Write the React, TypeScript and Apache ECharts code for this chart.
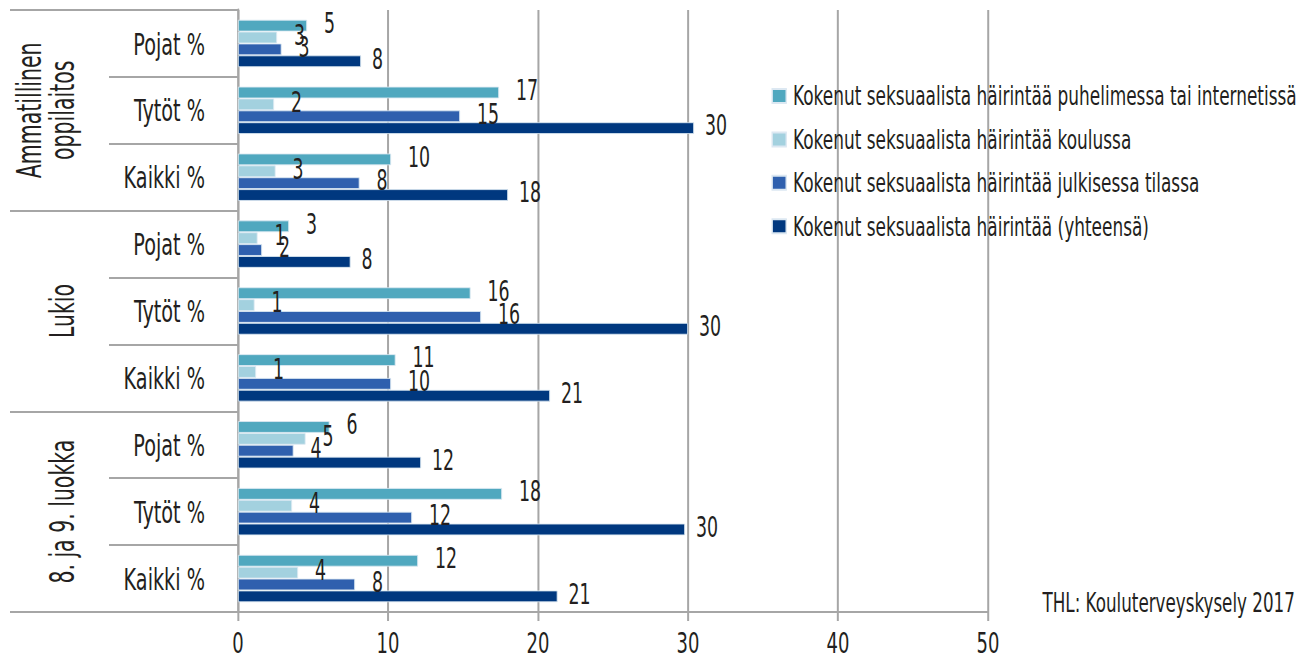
import React, { useEffect, useRef } from 'react';
import * as echarts from 'echarts';

const categories = ['Pojat %', 'Tytöt %', 'Kaikki %', 'Pojat %', 'Tytöt %', 'Kaikki %', 'Pojat %', 'Tytöt %', 'Kaikki %'];
const groups = ['Ammatillinen\noppilaitos', 'Lukio', '8. ja 9. luokka'];
const seriesNames = [
  'Kokenut seksuaalista häirintää puhelimessa tai internetissä',
  'Kokenut seksuaalista häirintää koulussa',
  'Kokenut seksuaalista häirintää julkisessa tilassa',
  'Kokenut seksuaalista häirintää (yhteensä)',
];
const puhelin = [4.6, 17.4, 10.2, 3.4, 15.5, 10.5, 6.1, 17.6, 12.0];
const koulu = [2.6, 2.4, 2.5, 1.3, 1.1, 1.2, 4.5, 3.6, 4.0];
const julkinen = [2.9, 14.8, 8.1, 1.6, 16.2, 10.2, 3.7, 11.6, 7.8];
const yhteensa = [8.2, 30.4, 18.0, 7.5, 30.0, 20.8, 12.2, 29.8, 21.3];
const colors = ['#50A8BF', '#A3D1DF', '#2F60AE', '#00387F'];
const xTicks = { min: 0, max: 50, interval: 10 };
const sourceText = 'THL: Kouluterveyskysely 2017';

// The reference uses a tall condensed typeface; the chart is laid out on a wider
// canvas and squeezed horizontally so the text gets the same condensed look.
const OUT_W = 1299;
const OUT_H = 659;
const S = 0.69;
const W = Math.round(OUT_W / S);
const SX = OUT_W / W;
const h = (px: number) => px / SX; // final horizontal px -> canvas px

const FONT = "'DejaVu Sans Condensed', 'DejaVu Sans', sans-serif";
const GRAY = '#A6A6A6';
const TEXT = '#231F20';

export default function App() {
  const ref = useRef<HTMLDivElement>(null);
  useEffect(() => {
    if (!ref.current) return;
    const chart = echarts.init(ref.current, undefined, { renderer: 'svg' });
    const values = [puhelin, koulu, julkinen, yhteensa];
    chart.setOption({
      animation: false,
      textStyle: { fontFamily: FONT },
      grid: { left: h(238), right: h(311), top: 10, bottom: 47, containLabel: false },
      legend: {
        orient: 'vertical',
        left: h(771.5),
        top: 82.5,
        padding: 0,
        itemWidth: h(14),
        itemHeight: 14,
        itemGap: 16.4,
        icon: 'rect',
        data: seriesNames,
        textStyle: { fontFamily: FONT, fontSize: 27.3, color: TEXT, padding: [0, 0, 0, 5] },
      },
      xAxis: {
        type: 'value',
        min: xTicks.min,
        max: xTicks.max,
        interval: xTicks.interval,
        axisLine: { show: true, lineStyle: { color: GRAY, width: 2 } },
        axisTick: { show: true, length: 9, lineStyle: { color: GRAY, width: h(2) } },
        splitLine: { show: true, lineStyle: { color: GRAY, width: h(2) } },
        axisLabel: { fontFamily: FONT, fontSize: 29, color: TEXT, margin: 17 },
      },
      yAxis: [
        {
          type: 'category',
          data: categories,
          inverse: true,
          axisLine: { show: true, lineStyle: { color: GRAY, width: h(2) } },
          axisTick: { show: true, length: h(129), interval: 0, lineStyle: { color: GRAY, width: 2 } },
          axisLabel: { fontFamily: FONT, fontSize: 31, color: TEXT, margin: h(33), interval: 0 },
        },
        {
          type: 'category',
          data: groups,
          inverse: true,
          position: 'left',
          axisLine: { show: false },
          axisTick: { show: true, length: h(228), interval: 0, lineStyle: { color: GRAY, width: 2 } },
          axisLabel: { show: false },
        },
      ],
      series: values.map((v, i) => ({
        name: seriesNames[i],
        type: 'bar',
        yAxisIndex: 0,
        data: v,
        barGap: '0%',
        barCategoryGap: '29%',
        itemStyle: { color: colors[i], borderColor: '#DCE8F2', borderWidth: 1 },
        label: {
          show: true,
          position: 'right',
          distance: h(i === 3 ? 11 : 17),
          offset: [0, -2],
          formatter: (p: any) => String(Math.round(p.value)),
          fontFamily: FONT,
          fontSize: 28,
          color: TEXT,
        },
      })),
    });

    // Group titles: rotated text, counter-scaled so that it is condensed along its reading direction.
    const groupTexts = groups.map((g, i) => {
      const y = chart.convertToPixel({ yAxisIndex: 1 } as any, i) as unknown as number;
      return {
        type: 'text',
        x: h(79),
        y,
        rotation: Math.PI / 2,
        scaleX: SX,
        scaleY: 1 / SX,
        style: {
          text: g,
          fontFamily: FONT,
          fontSize: 33,
          lineHeight: 33,
          fill: TEXT,
          align: 'center',
          verticalAlign: 'bottom',
        },
      };
    });
    chart.setOption({
      graphic: [
        ...groupTexts,
        {
          type: 'text',
          right: h(4),
          top: 589,
          style: { text: sourceText, fontFamily: FONT, fontSize: 27, fill: TEXT },
        },
      ],
    });
    return () => chart.dispose();
  }, []);
  return (
    <div style={{ position: 'absolute', left: 0, top: 0, width: OUT_W, height: OUT_H, overflow: 'hidden', background: '#fff' }}>
      <div
        ref={ref}
        style={{
          width: W,
          height: OUT_H,
          transform: `scaleX(${SX})`,
          transformOrigin: '0 0',
        }}
      />
    </div>
  );
}
